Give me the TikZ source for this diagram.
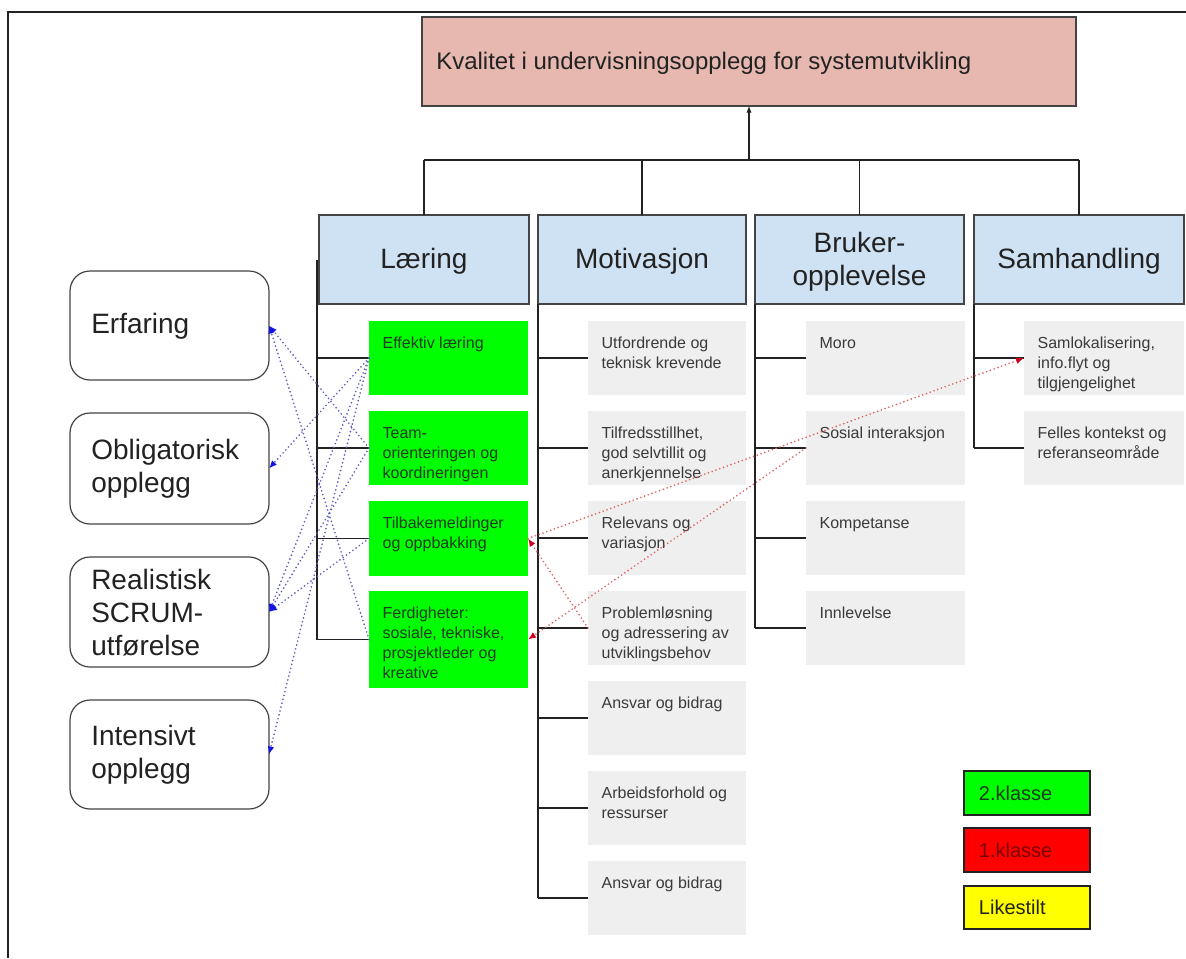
\documentclass[tikz,border=0pt]{standalone}
\usepackage{fontspec}
\setmainfont{Liberation Sans}
\usetikzlibrary{fit,arrows.meta}

\definecolor{titlefill}{HTML}{E6B8AF}
\definecolor{headfill}{HTML}{CFE2F3}
\definecolor{itemfill}{HTML}{EFEFEF}
\definecolor{keygreen}{HTML}{00FF00}
\definecolor{keyred}{HTML}{FF0000}
\definecolor{keyyellow}{HTML}{FFFF00}
\definecolor{edge}{HTML}{444444}
\definecolor{ink}{HTML}{222222}
\definecolor{itemink}{HTML}{3A3A3A}
\definecolor{greenink}{HTML}{1E3A1E}
\definecolor{redink}{HTML}{7A0000}
\definecolor{bluelink}{RGB}{95,95,190}
\definecolor{bluehead}{RGB}{20,20,225}
\definecolor{redlink}{RGB}{222,100,100}
\definecolor{redhead}{RGB}{205,0,30}

\begin{document}
\begin{tikzpicture}[x=0.75pt,y=-0.75pt,
  plainbox/.style={inner sep=0pt, outer sep=0pt},
  titlebox/.style={plainbox, draw=edge, fill=titlefill, line width=0.9pt},
  headbox/.style={plainbox, draw=edge, fill=headfill, line width=0.9pt},
  headtext/.style={anchor=center, inner sep=0pt, align=center, text=ink,
    font=\fontsize{21pt}{24.75pt}\selectfont},
  greenbox/.style={plainbox, fill=keygreen},
  itembox/.style={plainbox, fill=itemfill},
  sourcebox/.style={plainbox, draw=edge, line width=0.9pt, rounded corners=15pt},
  keybox/.style={plainbox, draw=ink, line width=0.9pt},
  tree/.style={draw=ink, line width=0.8pt},
  itemtext/.style={anchor=north west, inner sep=0pt, align=left,
    font=\fontsize{12pt}{15pt}\selectfont, text=itemink, xshift=10pt, yshift=-12pt},
  greentext/.style={itemtext, text=greenink},
  sourcetext/.style={anchor=west, inner sep=0pt, align=left, text=ink,
    font=\fontsize{21pt}{24.75pt}\selectfont},
  keytext/.style={anchor=west, inner sep=0pt, xshift=11pt,
    font=\fontsize{15pt}{18pt}\selectfont},
  bluelinkstyle/.style={draw=bluelink, line width=1.4pt, line cap=round,
    dash pattern=on 0pt off 3pt,
    -{Latex[length=6pt,width=5pt,color=bluehead]}},
  redlinkstyle/.style={draw=redlink, line width=1.4pt, line cap=round,
    dash pattern=on 0pt off 3pt,
    -{Latex[length=6pt,width=5pt,color=redhead]}}
]
\useasboundingbox (0,0) rectangle (1186,958);
\fill[white] (0,0) rectangle (1186,958);

% page frame
\draw[draw=ink, line width=0.9pt] (8,958) -- (8,12) -- (1186,12);

% goal
\node[titlebox, fit={(422,17) (1076,106)}] (title) {};
\node[anchor=west, inner sep=0pt, text=ink, font=\fontsize{18pt}{22pt}\selectfont]
  (titletext) at (436,63) {Kvalitet i undervisningsopplegg for systemutvikling};

% dimensions
\node[headbox, fit={(319,215) (529,304)}] (hL) {};
\node[headbox, fit={(538,215) (746,304)}] (hM) {};
\node[headbox, fit={(755,215) (964,304)}] (hB) {};
\node[headbox, fit={(974,215) (1184,304)}] (hS) {};
\node[headtext] (hLt) at ([yshift=-1.5pt]hL.center) {Læring};
\node[headtext] (hMt) at ([yshift=-1.5pt]hM.center) {Motivasjon};
\node[headtext] (hBt) at ([yshift=-1.5pt]hB.center) {Bruker-\\opplevelse};
\node[headtext] (hSt) at ([yshift=-1.5pt]hS.center) {Samhandling};

% tree above the dimensions
\coordinate (bus) at (0,160);
\draw[tree] (hL.north |- bus) -- (hS.north |- bus);
\foreach \n in {hL,hM,hB,hS} \draw[tree] (\n.north) -- (\n.north |- bus);
\draw[tree, -{Latex[length=5pt,width=4pt]}] (title.south |- bus) -- (title.south);

% Læring
\node[greenbox, fit={(369,321) (528,395)}] (g1) {};
\node[greenbox, fit={(369,411) (528,485)}] (g2) {};
\node[greenbox, fit={(369,501) (528,576)}] (g3) {};
\node[greenbox, fit={(369,591) (528,688)}] (g4) {};
\node[greentext] (g1t) at (g1.north west) {Effektiv læring};
\node[greentext] (g2t) at (g2.north west) {Team-\\orienteringen og\\koordineringen};
\node[greentext] (g3t) at (g3.north west) {Tilbakemeldinger\\og oppbakking};
\node[greentext] (g4t) at (g4.north west) {Ferdigheter:\\sosiale, tekniske,\\prosjektleder og\\kreative};

% Motivasjon
\node[itembox, fit={(588,321) (746,395)}] (m1) {};
\node[itembox, fit={(588,411) (746,485)}] (m2) {};
\node[itembox, fit={(588,501) (746,575)}] (m3) {};
\node[itembox, fit={(588,591) (746,665)}] (m4) {};
\node[itembox, fit={(588,681) (746,755)}] (m5) {};
\node[itembox, fit={(588,771) (746,845)}] (m6) {};
\node[itembox, fit={(588,861) (746,935)}] (m7) {};
\node[itemtext] (m1t) at (m1.north west) {Utfordrende og\\teknisk krevende};
\node[itemtext] (m2t) at (m2.north west) {Tilfredsstillhet,\\god selvtillit og\\anerkjennelse};
\node[itemtext] (m3t) at (m3.north west) {Relevans og\\variasjon};
\node[itemtext] (m4t) at (m4.north west) {Problemløsning\\og adressering av\\utviklingsbehov};
\node[itemtext] (m5t) at (m5.north west) {Ansvar og bidrag};
\node[itemtext] (m6t) at (m6.north west) {Arbeidsforhold og\\ressurser};
\node[itemtext] (m7t) at (m7.north west) {Ansvar og bidrag};

% Brukeropplevelse
\node[itembox, fit={(806,321) (965,395)}] (b1) {};
\node[itembox, fit={(806,411) (965,485)}] (b2) {};
\node[itembox, fit={(806,501) (965,575)}] (b3) {};
\node[itembox, fit={(806,591) (965,665)}] (b4) {};
\node[itemtext] (b1t) at (b1.north west) {Moro};
\node[itemtext] (b2t) at (b2.north west) {Sosial interaksjon};
\node[itemtext] (b3t) at (b3.north west) {Kompetanse};
\node[itemtext] (b4t) at (b4.north west) {Innlevelse};

% Samhandling
\node[itembox, fit={(1024,321) (1184,395)}] (s1) {};
\node[itembox, fit={(1024,411) (1184,485)}] (s2) {};
\node[itemtext] (s1t) at (s1.north west) {Samlokalisering,\\info.flyt og\\tilgjengelighet};
\node[itemtext] (s2t) at (s2.north west) {Felles kontekst og\\referanseområde};

% branch lines
\coordinate (lspine) at (317,260);
\draw[tree, line width=1.6pt] (lspine) -- (lspine |- g3.west);
\draw[tree] (lspine |- g3.west) -- (lspine |- g4.west);
\foreach \n in {g1,g2,g3,g4} \draw[tree] (lspine |- \n.west) -- (\n.west);
\draw[tree] (hM.south west) -- (hM.south west |- m7.west);
\foreach \n in {m1,m2,m3,m4,m5,m6,m7} \draw[tree] (hM.south west |- \n.west) -- (\n.west);
\draw[tree] (hB.south west) -- (hB.south west |- b4.west);
\foreach \n in {b1,b2,b3,b4} \draw[tree] (hB.south west |- \n.west) -- (\n.west);
\draw[tree] (hS.south west) -- (hS.south west |- s2.west);
\foreach \n in {s1,s2} \draw[tree] (hS.south west |- \n.west) -- (\n.west);

% course design factors
\node[sourcebox, fit={(70,271) (269,380)}] (erf) {};
\node[sourcebox, fit={(70,413) (269,524)}] (obl) {};
\node[sourcebox, fit={(70,557) (269,667)}] (rea) {};
\node[sourcebox, fit={(70,700) (269,809)}] (int) {};
\node[sourcetext] (erft) at (91,326) {Erfaring};
\node[sourcetext] (oblt) at (91,469) {Obligatorisk\\opplegg};
\node[sourcetext] (reat) at (91,613) {Realistisk\\SCRUM-\\utførelse};
\node[sourcetext] (intt) at (91,755) {Intensivt\\opplegg};

% blue links
\draw[bluelinkstyle] (g1.west) -- (obl.east);
\draw[bluelinkstyle] (g1.west) -- (rea.east);
\draw[bluelinkstyle] (g1.west) -- (int.east);
\draw[bluelinkstyle] (g2.west) -- (erf.east);
\draw[bluelinkstyle] (g2.west) -- (rea.east);
\draw[bluelinkstyle] (g3.west) -- (rea.east);
\draw[bluelinkstyle] (g4.west) -- (erf.east);

% red links
\draw[redlinkstyle] (g3.east) -- (s1.west);
\draw[redlinkstyle] (m4.west) -- (g3.east);
\draw[redlinkstyle] (b2.west) -- (g4.east);

% key
\node[keybox, fill=keygreen, fit={(964,771) (1090,815)}] (k2) {};
\node[keybox, fill=keyred, fit={(964,828) (1090,872)}] (k1) {};
\node[keybox, fill=keyyellow, fit={(964,886) (1090,929)}] (k0) {};
\node[keytext, text=greenink] (k2t) at (k2.west) {2.klasse};
\node[keytext, text=redink] (k1t) at (k1.west) {1.klasse};
\node[keytext, text=ink] (k0t) at (k0.west) {Likestilt};
\end{tikzpicture}
\end{document}
